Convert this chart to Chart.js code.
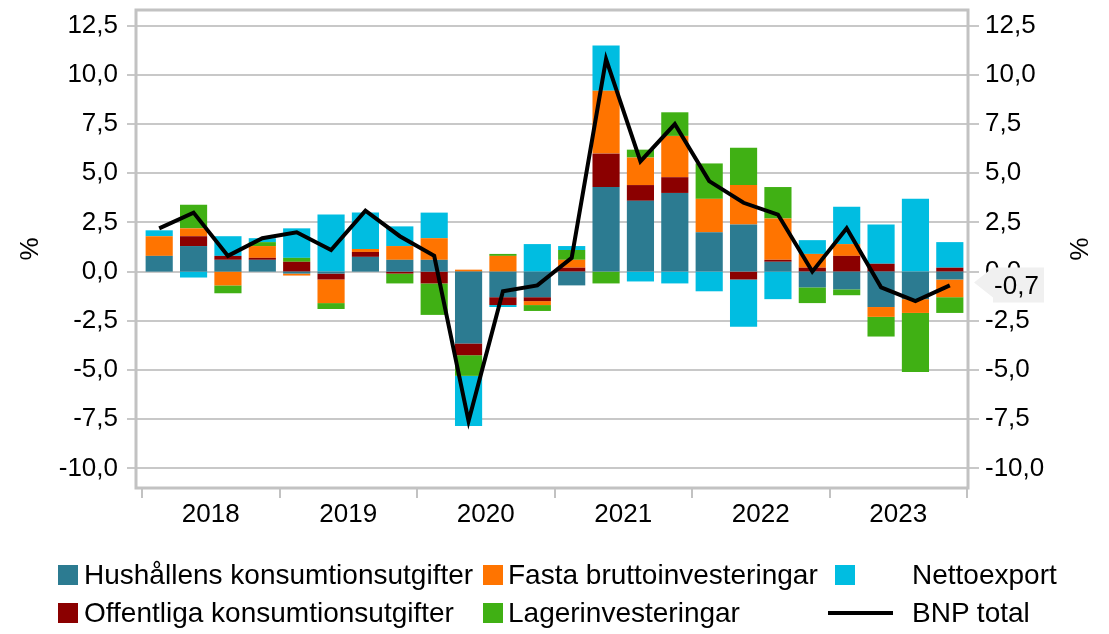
<!DOCTYPE html>
<html><head><meta charset="utf-8">
<script src="https://cdn.jsdelivr.net/npm/chart.js@4.4.0/dist/chart.umd.min.js"></script>
<style>
html,body{margin:0;padding:0;background:#fff;}
#wrap{position:relative;width:1109px;height:634px;overflow:hidden;}
#c{position:absolute;left:0;top:0;}
.lg{position:absolute;font-family:'Liberation Sans',Arial,sans-serif;font-size:28px;line-height:28px;color:#000;white-space:nowrap;}
.sw{position:absolute;width:20px;height:20px;}
.ln{position:absolute;height:4px;background:#000;}
</style></head>
<body><div id="wrap"><canvas id="c" width="1109" height="634"></canvas><div id="legend"></div></div>
<script>
const quarters = ['2018K1','2018K2','2018K3','2018K4','2019K1','2019K2','2019K3','2019K4',
  '2020K1','2020K2','2020K3','2020K4','2021K1','2021K2','2021K3','2021K4',
  '2022K1','2022K2','2022K3','2022K4','2023K1','2023K2','2023K3','2023K4'];
const yearLabels = ['2018','2019','2020','2021','2022','2023'];
const hushall = [0.8,1.3,0.6,0.6, -0.1,-0.1,0.75,0.6, 0.6,-3.65,-1.3,-1.3, -0.7,4.3,3.6,4.0, 2.0,2.4,0.5,-0.8, -0.9,-1.8,-1.4,-0.4];
const offentliga = [0,0.5,0.2,0.1, 0.5,-0.3,0.25,-0.1, -0.6,-0.6,-0.4,-0.2, 0.2,1.7,0.8,0.8, 0,-0.4,0.1,0.2, 0.8,0.4,0,0.2];
const fasta = [1.0,0.4,-0.7,0.6, -0.1,-1.2,0.15,0.7, 1.1,0.1,0.8,-0.2, 0.4,3.2,1.4,2.1, 1.7,2.0,2.1,0.7, 0.6,-0.5,-0.7,-0.9];
const lager = [0,1.2,-0.4,0.2, 0.2,-0.3,0,-0.5, -1.6,-1.05,0.1,-0.3, 0.5,-0.6,0.4,1.2, 1.8,1.9,1.6,-0.8, -0.3,-1.0,-3.0,-0.8];
const netto = [0.3,-0.3,1.0,0.2, 1.5,2.9,1.85,1.0, 1.3,-2.55,-0.1,1.4, 0.2,2.3,-0.5,-0.6, -1.0,-2.4,-1.4,0.7, 1.9,2.0,3.7,1.3];
const bnp = [2.2,3.0,0.8,1.7, 2.0,1.1,3.1,1.8, 0.8,-7.6,-1.0,-0.7, 0.7,10.8,5.6,7.5, 4.6,3.5,2.9,0.0, 2.2,-0.8,-1.5,-0.7];
const yTicks = [-10,-7.5,-5,-2.5,0,2.5,5,7.5,10,12.5];
const yMin = -11, yMax = 13.3;

const FONT = "'Liberation Sans', Arial, sans-serif";
const COL = {teal:'#2c7b91', red:'#8b0000', orange:'#ff7400', green:'#40b014', cyan:'#00bde1'};
const fmt = v => Number(v).toFixed(1).replace('.', ',');
const yearCenters = yearLabels.map((_, i) => i * 4 + 2);
const yearBounds = yearLabels.map((_, i) => i * 4).concat([quarters.length]);

const framePlugin = {
  id: 'frame',
  beforeDatasetsDraw(chart) {
    const {ctx, chartArea: a, scales} = chart;
    const y = scales.y, yr = scales.yr;
    const L = a.left - 6, R = a.right + 1;
    ctx.save();
    ctx.strokeStyle = '#c8c8c8'; ctx.lineWidth = 2;
    y.ticks.forEach(t => {
      const py = Math.round(y.getPixelForValue(t.value));
      ctx.beginPath(); ctx.moveTo(L - 9, py); ctx.lineTo(R + 11, py); ctx.stroke();
    });
    ctx.strokeStyle = '#c2c2c2'; ctx.lineWidth = 3;
    ctx.strokeRect(L, a.top, R - L, a.bottom - a.top);
    ctx.lineWidth = 2;
    yearBounds.forEach(v => {
      const px = Math.round(yr.getPixelForValue(v));
      ctx.beginPath(); ctx.moveTo(px, a.bottom); ctx.lineTo(px, a.bottom + 10); ctx.stroke();
    });
    ctx.restore();
  }
};

const calloutPlugin = {
  id: 'callout',
  afterDraw(chart) {
    const {ctx, chartArea: a, scales} = chart;
    const v = bnp[bnp.length - 1];
    const py = scales.y.getPixelForValue(v);
    const tip = a.right + 7, bx = a.right + 26, ex = a.right + 77;
    ctx.save();
    ctx.fillStyle = '#f0f0f0';
    ctx.beginPath();
    ctx.moveTo(tip, py - 3);
    ctx.lineTo(bx, py - 18);
    ctx.lineTo(ex, py - 18);
    ctx.lineTo(ex, py + 17);
    ctx.lineTo(bx, py + 17);
    ctx.lineTo(bx, py + 12);
    ctx.closePath();
    ctx.fill();
    ctx.fillStyle = '#000';
    ctx.font = '26px ' + FONT;
    ctx.textAlign = 'center'; ctx.textBaseline = 'middle';
    ctx.fillText(fmt(v), (bx + ex) / 2 - 2, py + 1);
    ctx.restore();
  }
};

const tickFont = {family: FONT, size: 26};
const yAxisBase = {
  min: yMin, max: yMax,
  afterBuildTicks: s => { s.ticks = yTicks.map(v => ({value: v})); },
  grid: {display: false, drawTicks: false},
  border: {display: false},
  afterFit: s => { s.width = 142; s.paddingTop = 0; s.paddingBottom = 0; }
};

const ctx = document.getElementById('c').getContext('2d');
const chart = new Chart(ctx, {
  type: 'bar',
  data: {
    labels: quarters,
    datasets: [
      {type: 'line', label: 'BNP total', data: bnp, borderColor: '#000', borderWidth: 4,
       pointRadius: 0, tension: 0, order: 0, stack: 'line', yAxisID: 'y', xAxisID: 'x', fill: false},
      {label: 'Hushållens konsumtionsutgifter', data: hushall, backgroundColor: COL.teal, order: 1, stack: 'b'},
      {label: 'Offentliga konsumtionsutgifter', data: offentliga, backgroundColor: COL.red, order: 2, stack: 'b'},
      {label: 'Fasta bruttoinvesteringar', data: fasta, backgroundColor: COL.orange, order: 3, stack: 'b'},
      {label: 'Lagerinvesteringar', data: lager, backgroundColor: COL.green, order: 4, stack: 'b'},
      {label: 'Nettoexport', data: netto, backgroundColor: COL.cyan, order: 5, stack: 'b'}
    ]
  },
  options: {
    responsive: false, animation: false,
    layout: {padding: {top: 10, left: 0, right: 0, bottom: 0}},
    plugins: {legend: {display: false}, tooltip: {enabled: false}},
    datasets: {bar: {categoryPercentage: 1, barPercentage: 0.79, borderWidth: 0}},
    scales: {
      x: {type: 'category', stacked: true, display: false, offset: true},
      yr: {type: 'linear', position: 'bottom', min: 0, max: quarters.length, offset: false,
        afterBuildTicks: s => { s.ticks = yearCenters.map(v => ({value: v})); },
        ticks: {callback: (v, i) => yearLabels[i], font: tickFont, color: '#000', padding: 11, maxRotation: 0, autoSkip: false},
        grid: {display: false, drawTicks: false, offset: false}, border: {display: false},
        afterFit: s => { s.height = 146; s.paddingLeft = 0; s.paddingRight = 0; }},
      y: Object.assign({}, yAxisBase, {position: 'left', stacked: true,
        ticks: {callback: v => fmt(v), font: tickFont, color: '#000', padding: 24},
        title: {display: true, text: '%', font: tickFont, color: '#000', padding: {top: 15, bottom: 0}}}),
      y2: Object.assign({}, yAxisBase, {position: 'right',
        ticks: {callback: v => fmt(v), font: tickFont, color: '#000', padding: 18},
        title: {display: true, text: '%', font: tickFont, color: '#000', padding: {top: 16, bottom: 0}}})
    }
  },
  plugins: [framePlugin, calloutPlugin]
});

// Legend (HTML), built from the chart's datasets
const legendSlots = {
  'Hushållens konsumtionsutgifter': {sw: 58, tx: 84, row: 0},
  'Fasta bruttoinvesteringar': {sw: 483, tx: 508, row: 0},
  'Nettoexport': {sw: 835, tx: 912, row: 0},
  'Offentliga konsumtionsutgifter': {sw: 58, tx: 84, row: 1},
  'Lagerinvesteringar': {sw: 483, tx: 508, row: 1},
  'BNP total': {sw: 828, tx: 912, row: 1, line: true}
};
const rowCenter = [575, 613];
const leg = document.getElementById('legend');
chart.data.datasets.forEach(ds => {
  const s = legendSlots[ds.label];
  const cy = rowCenter[s.row];
  const mark = document.createElement('div');
  if (s.line) {
    mark.className = 'ln';
    mark.style.left = s.sw + 'px'; mark.style.width = '65px'; mark.style.top = (cy - 2) + 'px';
  } else {
    mark.className = 'sw';
    mark.style.left = s.sw + 'px'; mark.style.top = (cy - 10) + 'px';
    mark.style.background = ds.backgroundColor;
  }
  leg.appendChild(mark);
  const t = document.createElement('div');
  t.className = 'lg';
  t.textContent = ds.label;
  t.style.left = s.tx + 'px'; t.style.top = (cy - 14) + 'px';
  leg.appendChild(t);
});
</script>
</body></html>
